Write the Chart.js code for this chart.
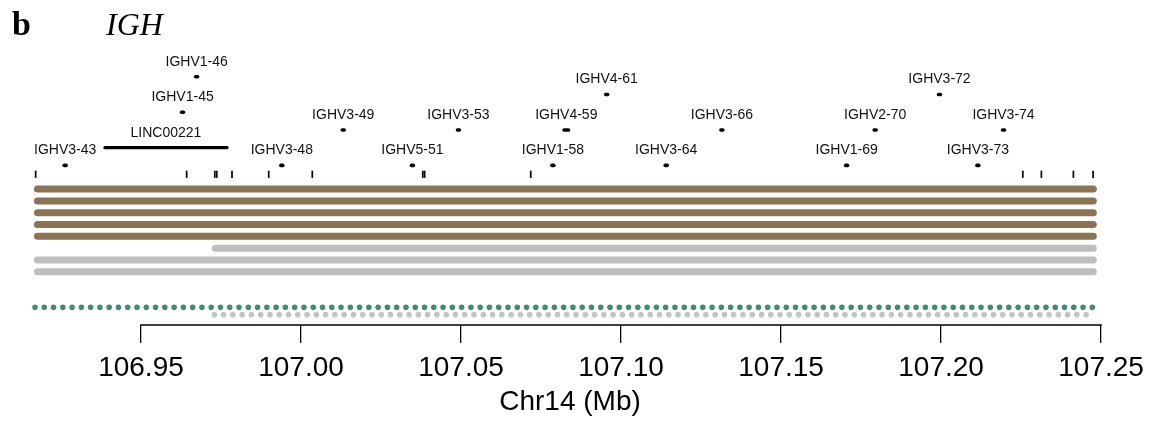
<!DOCTYPE html>
<html>
<head>
<meta charset="utf-8">
<script src="https://cdn.jsdelivr.net/npm/chart.js@4/dist/chart.umd.min.js"></script>
<style>
  html, body { margin: 0; padding: 0; background: #fff; }
  #locusChart { display: block; }
</style>
</head>
<body>
<canvas id="locusChart" width="1160" height="421"></canvas>
<script>
// IGH locus on chr14, positions in Mb

// gene annotation
const geneNames = ["IGHV3-43", "LINC00221", "IGHV1-45", "IGHV1-46", "IGHV3-48", "IGHV3-49",
    "IGHV5-51", "IGHV3-53", "IGHV1-58", "IGHV4-59", "IGHV4-61", "IGHV3-64", "IGHV3-66",
    "IGHV1-69", "IGHV2-70", "IGHV3-72", "IGHV3-73", "IGHV3-74"];
const geneStart = [106.9260, 106.93875, 106.9627, 106.9671, 106.9937, 107.0129,
    107.0345, 107.0489, 107.0784, 107.0822, 107.0952, 107.1138, 107.1312,
    107.1702, 107.1791, 107.1992, 107.2112, 107.2192];
const geneEnd = [106.9266, 106.97688, 106.9633, 106.9677, 106.9943, 107.0135,
    107.0351, 107.0495, 107.0790, 107.0836, 107.0958, 107.1144, 107.1318,
    107.1708, 107.1797, 107.1998, 107.2118, 107.2198];
// stacking level of each gene (track units, negative = above the bars)
const geneTrack = [-1, -2.5, -5.5, -8.5, -1, -4, -1, -4, -1, -4, -7, -1, -4, -1, -4, -7, -1, -4];

// short features just above the bars
const featurePos = [106.91709, 106.96428, 106.97306, 106.97369, 106.97844, 106.98991,
    107.00353, 107.03806, 107.03863, 107.07178, 107.22553, 107.23134, 107.24134, 107.2475];
const featureTrack = -0.25;

// spanning segments
const brownRows = [1, 2, 3, 4, 5];
const brownStart = [106.91766, 106.91766, 106.91766, 106.91766, 106.91766];
const brownEnd = [107.24756, 107.24756, 107.24756, 107.24756, 107.24756];
const grayRows = [6, 7, 8];
const grayStart = [106.97319, 106.91766, 106.91766];
const grayEnd = [107.24756, 107.24756, 107.24756];

// dotted rows
const dotRows = [11, 11.62];
const dotStart = [106.91688, 106.97291];
const dotEnd = [107.24728, 107.24603];

// x axis
const axisTicks = [106.95, 107.00, 107.05, 107.10, 107.15, 107.20, 107.25];
const axisTitle = "Chr14 (Mb)";

const BROWN = "#8B7355";
const GRAY = "#BEBEBE";
const GREEN = "#458B74";
const SANS = "'Liberation Sans', Arial, Helvetica, sans-serif";
const SERIF = "'Liberation Serif', 'Times New Roman', serif";

function segment(x0, x1, y) {
    return [{ x: x0, y: y }, { x: x1, y: y }];
}

let datasets = [];

brownRows.forEach((row, i) => {
    datasets.push({
        data: segment(brownStart[i], brownEnd[i], row),
        showLine: true,
        borderColor: BROWN,
        borderWidth: 7,
        borderCapStyle: "round",
        pointRadius: 0,
    });
});

grayRows.forEach((row, i) => {
    datasets.push({
        data: segment(grayStart[i], grayEnd[i], row),
        showLine: true,
        borderColor: GRAY,
        borderWidth: 7,
        borderCapStyle: "round",
        pointRadius: 0,
    });
});

dotRows.forEach((row, i) => {
    datasets.push({
        data: segment(dotStart[i], dotEnd[i], row),
        showLine: true,
        borderColor: i === 0 ? GREEN : "#C4C4C4",
        borderWidth: 5.6,
        borderCapStyle: "round",
        borderDash: [0, 9.275],
        pointRadius: 0,
    });
});

datasets.push({
    data: featurePos.map((x) => ({ x: x, y: featureTrack })),
    pointStyle: "line",
    rotation: 90,
    pointRadius: 3.6,
    borderWidth: 1.7,
    borderColor: "#000",
});

geneNames.forEach((name, i) => {
    datasets.push({
        label: name,
        data: segment(geneStart[i], geneEnd[i], geneTrack[i]),
        showLine: true,
        borderColor: "#000",
        borderWidth: name.startsWith("LINC") ? 3.3 : 3.6,
        borderCapStyle: "round",
        pointRadius: 0,
    });
});

// gene names above their marks
const geneLabels = {
    id: "geneLabels",
    afterDatasetsDraw(chart) {
        const ctx = chart.ctx;
        const xs = chart.scales.x;
        const ys = chart.scales.y;
        ctx.save();
        ctx.font = "14px " + SANS;
        ctx.fillStyle = "#111";
        ctx.textAlign = "center";
        ctx.textBaseline = "middle";
        geneNames.forEach((name, i) => {
            const px = xs.getPixelForValue((geneStart[i] + geneEnd[i]) / 2);
            const py = ys.getPixelForValue(geneTrack[i]) - 15;
            ctx.fillText(name, px, py);
        });
        ctx.restore();
    },
};

// axis line only between the first and last tick
const axisLine = {
    id: "axisLine",
    afterDraw(chart) {
        const ctx = chart.ctx;
        const xs = chart.scales.x;
        const y = chart.chartArea.bottom;
        ctx.save();
        ctx.strokeStyle = "#000";
        ctx.lineWidth = 1.5;
        ctx.beginPath();
        ctx.moveTo(xs.getPixelForValue(axisTicks[0]) - 0.75, y);
        ctx.lineTo(xs.getPixelForValue(axisTicks[axisTicks.length - 1]) + 0.75, y);
        ctx.stroke();
        ctx.restore();
    },
};

// panel letter and locus name
const panelHeading = {
    id: "panelHeading",
    afterDraw(chart) {
        const ctx = chart.ctx;
        ctx.save();
        ctx.fillStyle = "#000";
        ctx.textBaseline = "alphabetic";
        ctx.textAlign = "left";
        ctx.font = "bold 34px " + SERIF;
        ctx.fillText("b", 12, 35);
        ctx.font = "italic 32px " + SERIF;
        ctx.fillText("IGH", 106, 35);
        ctx.restore();
    },
};

const chart = new Chart(document.getElementById("locusChart"), {
    type: "scatter",
    data: { datasets: datasets },
    options: {
        responsive: false,
        animation: false,
        events: [],
        layout: { padding: { left: 20, right: 40, top: 59, bottom: 0 } },
        plugins: {
            legend: { display: false },
            tooltip: { enabled: false },
        },
        scales: {
            x: {
                type: "linear",
                min: 106.9122,
                max: 107.2559,
                afterBuildTicks: (axis) => {
                    axis.ticks = axisTicks.map((v) => ({ value: v }));
                },
                border: { display: false },
                grid: {
                    display: true,
                    drawOnChartArea: false,
                    drawTicks: true,
                    tickLength: 18,
                    color: "#000",
                    lineWidth: 1.3,
                },
                ticks: {
                    color: "#000",
                    padding: 11,
                    maxRotation: 0,
                    autoSkip: false,
                    font: { family: SANS, size: 28, lineHeight: 1 },
                    callback: (v) => Number(v).toFixed(2),
                },
                title: {
                    display: true,
                    text: axisTitle,
                    color: "#000",
                    padding: { top: 1, bottom: 11 },
                    font: { family: SANS, size: 28, lineHeight: 0.57 },
                },
            },
            y: {
                display: false,
                reverse: true,
                min: -10,
                max: 12.5,
            },
        },
    },
    plugins: [geneLabels, axisLine, panelHeading],
});
</script>
</body>
</html>
